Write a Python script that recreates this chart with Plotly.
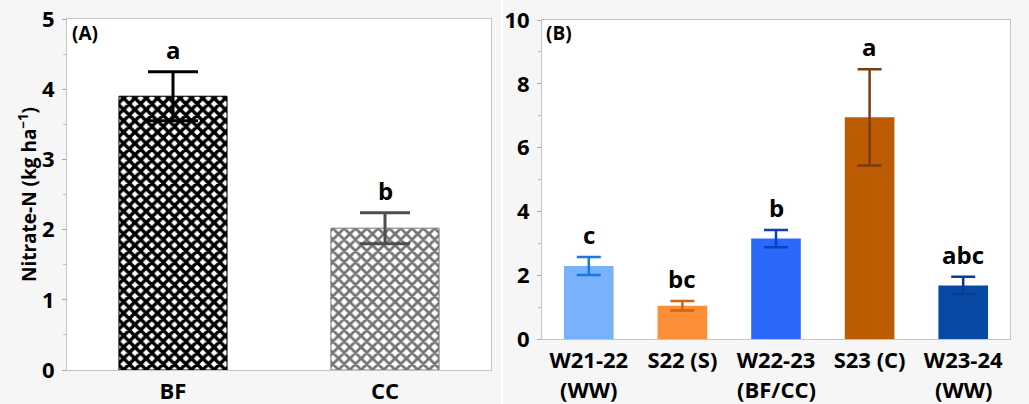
import plotly.graph_objects as go

# Panel A: bare fallow vs cover crop
a_groups = ["BF", "CC"]
a_means = [3.90, 2.02]
a_se = [0.35, 0.22]
a_letters = ["a", "b"]

# Panel B: sampling seasons
b_line1 = ["W21-22", "S22 (S)", "W22-23", "S23 (C)", "W23-24"]
b_line2 = ["(WW)", "", "(BF/CC)", "", "(WW)"]
b_means = [2.29, 1.04, 3.15, 6.95, 1.68]
b_se = [0.28, 0.15, 0.27, 1.51, 0.27]
b_letters = ["c", "bc", "b", "a", "abc"]
b_colors = ["#78b2fb", "#fc8e37", "#2b69fb", "#bd5b03", "#0849a5"]
b_err_colors = ["#1a78e4", "#d4630f", "#0b3fc4", "#7a3d12", "#083d95"]

FONT = "Open Sans"
W, H = 1029, 404

fig = go.Figure()

# Panel A bars with cross-hatch fill
a_fg = ["#000000", "#747474"]
a_solid = [0.68, 0.58]
for i, g in enumerate(a_groups):
    fig.add_trace(go.Bar(
        x=[g], y=[a_means[i]], xaxis="x", yaxis="y", width=0.51,
        marker=dict(color="white",
                    line=dict(color=a_fg[i], width=1),
                    pattern=dict(shape="x", fgcolor=a_fg[i], bgcolor="white",
                                 fgopacity=1, size=8, solidity=a_solid[i],
                                 fillmode="replace")),
        error_y=dict(type="data", array=[a_se[i]], color=["#000000", "#4d4d4d"][i],
                     thickness=3, width=25),
        showlegend=False, hoverinfo="skip",
    ))

# Panel B bars
for i, g in enumerate(b_line1):
    fig.add_trace(go.Bar(
        x=[g], y=[b_means[i]], xaxis="x2", yaxis="y2", width=0.53,
        marker=dict(color=b_colors[i], line=dict(width=0)),
        error_y=dict(type="data", array=[b_se[i]], color=b_err_colors[i],
                     thickness=2.5, width=12),
        showlegend=False, hoverinfo="skip",
    ))

bold = dict(family=FONT, color="black", weight="bold")
annotations = []
# significance letters
for g, m, s, t in zip(a_groups, a_means, a_se, a_letters):
    annotations.append(dict(x=g, y=m + s, xref="x", yref="y", text=t, showarrow=False,
                            yanchor="bottom", yshift=4, font=dict(size=24, **bold)))
for g, m, s, t in zip(b_line1, b_means, b_se, b_letters):
    annotations.append(dict(x=g, y=m + s, xref="x2", yref="y2", text=t, showarrow=False,
                            yanchor="bottom", yshift=4, font=dict(size=24, **bold)))
# second line of the season labels
for g, t in zip(b_line1, b_line2):
    if t:
        annotations.append(dict(x=g, y=(H - 389) / H, xref="x2", yref="paper", text=t,
                                showarrow=False, yanchor="middle",
                                font=dict(size=22, **bold)))
# panel tags
annotations.append(dict(x=70 / W, y=(H - 33) / H, xref="paper", yref="paper", text="(A)",
                        showarrow=False, xanchor="left", yanchor="middle",
                        font=dict(size=19, **bold)))
annotations.append(dict(x=544 / W, y=(H - 33) / H, xref="paper", yref="paper", text="(B)",
                        showarrow=False, xanchor="left", yanchor="middle",
                        font=dict(size=19, **bold)))

axis_common = dict(showline=True, linecolor="#c4c4c4", linewidth=1, mirror=True,
                   showgrid=False, zeroline=False, automargin=False,
                   tickfont=dict(size=22, **bold))

fig.update_layout(
    width=W, height=H,
    margin=dict(l=0, r=0, t=0, b=0),
    paper_bgcolor="#f6f6f6",
    plot_bgcolor="white",
    annotations=annotations,
    xaxis=dict(domain=[67 / W, 491 / W], anchor="y", ticks="", ticklabelstandoff=2,
               **axis_common),
    yaxis=dict(domain=[(H - 370) / H, (H - 19) / H], anchor="x", range=[0, 5],
               dtick=1, ticks="outside", ticklen=4, tickcolor="#a8a8a8",
               ticklabelstandoff=3,
               minor=dict(dtick=0.5, ticks="outside", ticklen=3, tickcolor="#c0c0c0"),
               title=dict(text="Nitrate-N (kg ha<sup>−1</sup>)", standoff=0,
                          font=dict(size=19, **bold)),
               **axis_common),
    xaxis2=dict(domain=[542 / W, 1010 / W], anchor="y2", ticks="", ticklabelstandoff=2,
                **axis_common),
    yaxis2=dict(domain=[(H - 339) / H, (H - 20) / H], anchor="x2", range=[0, 10],
                dtick=2, ticks="outside", ticklen=4, tickcolor="#a8a8a8",
                ticklabelstandoff=3,
                minor=dict(dtick=1, ticks="outside", ticklen=3, tickcolor="#c0c0c0"),
                **axis_common),
    shapes=[dict(type="line", xref="paper", yref="paper", x0=502 / W, x1=502 / W,
                 y0=0, y1=1, line=dict(color="white", width=2))],
)

fig.write_html("out.html")
